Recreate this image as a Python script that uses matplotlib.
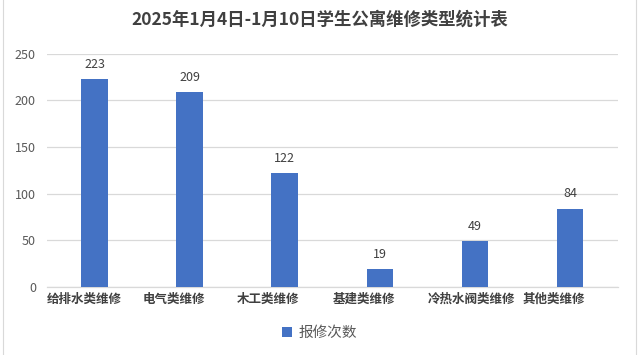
import matplotlib.pyplot as plt
from matplotlib.lines import Line2D

plt.rcParams['font.family'] = ['Noto Sans CJK SC', 'DejaVu Sans']

# data
categories = ['给排水类维修', '电气类维修', '木工类维修', '基建类维修', '冷热水阀类维修', '其他类维修']
counts = [223, 209, 122, 19, 49, 84]
yticks = [0, 50, 100, 150, 200, 250]

bar_color = '#4472C4'
text_gray = '#595959'

fig = plt.figure(figsize=(6.39, 3.55), dpi=100)
ax = fig.add_axes([0.0736, 0.1915, 0.893, 0.657])

x = list(range(len(categories)))
bars = ax.bar(x, counts, width=0.28, color=bar_color, label='报修次数', zorder=3)

for rect, v in zip(bars, counts):
    ax.annotate(str(v), (rect.get_x() + rect.get_width() / 2, v),
                xytext=(0, 6), textcoords='offset points',
                ha='center', va='bottom', fontsize=9, color='#404040')

ax.set_xlim(-0.5, len(categories) - 0.5)
ax.set_ylim(0, 250)
ax.set_yticks(yticks)
# category labels start at the left edge of each category slot, like the original
ax.set_xticks([i - 0.5 for i in x])
ax.set_xticklabels(categories, fontsize=9, color='#404040', fontweight='bold', ha='left')
ax.tick_params(axis='y', labelsize=9, labelcolor=text_gray, length=0, pad=8)
ax.tick_params(axis='x', length=0, pad=4)
ax.grid(axis='y', color='#D9D9D9', linewidth=0.9, zorder=0)
for s in ['top', 'right', 'left']:
    ax.spines[s].set_visible(False)
ax.spines['bottom'].set_color('#D9D9D9')
ax.spines['bottom'].set_linewidth(0.9)

fig.text(0.5, 0.944, '2025年1月4日-1月10日学生公寓维修类型统计表',
         ha='center', va='center', fontsize=12.5, fontweight='bold', color='#404040')

fig.legend(handles=[bars], labels=['报修次数'], loc='center', bbox_to_anchor=(0.5, 0.062),
           frameon=False, fontsize=10.5, labelcolor=text_gray,
           handlelength=0.7, handleheight=0.75, handletextpad=0.4)

# faint spreadsheet cell borders at the edges
for xe in [3 / 639, 636 / 639]:
    fig.add_artist(Line2D([xe, xe], [0, 1], color='#D9D9D9', linewidth=0.8))

fig.savefig('out.png', dpi=100)
